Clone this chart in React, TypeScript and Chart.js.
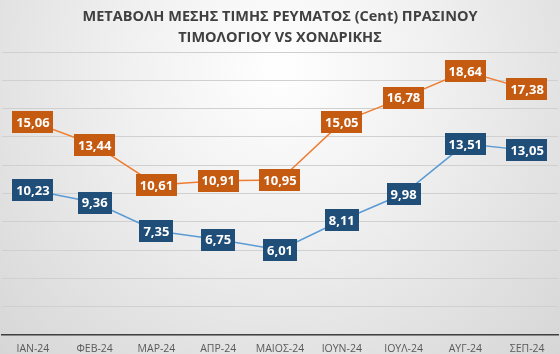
import React, { useEffect, useRef } from "react";
import { Chart, registerables } from "chart.js";

Chart.register(...registerables);

const months = ["ΙΑΝ-24", "ΦΕΒ-24", "ΜΑΡ-24", "ΑΠΡ-24", "ΜΑΙΟΣ-24", "ΙΟΥΝ-24", "ΙΟΥΛ-24", "ΑΥΓ-24", "ΣΕΠ-24"];
const greenTariff = [15.06, 13.44, 10.61, 10.91, 10.95, 15.05, 16.78, 18.64, 17.38];
const wholesale = [10.23, 9.36, 7.35, 6.75, 6.01, 8.11, 9.98, 13.51, 13.05];
const titleLines = ["ΜΕΤΑΒΟΛΗ ΜΕΣΗΣ ΤΙΜΗΣ ΡΕΥΜΑΤΟΣ (Cent) ΠΡΑΣΙΝΟΥ", "ΤΙΜΟΛΟΓΙΟΥ VS ΧΟΝΔΡΙΚΗΣ"];

const FONT = "'Open Sans', 'Liberation Sans', sans-serif";

const boxLabels = {
  id: "boxLabels",
  afterDatasetsDraw(chart: any) {
    const ctx = chart.ctx;
    ctx.save();
    ctx.font = `bold 13px ${FONT}`;
    ctx.textAlign = "center";
    ctx.textBaseline = "middle";
    chart.data.datasets.forEach((ds: any, i: number) => {
      const meta = chart.getDatasetMeta(i);
      meta.data.forEach((pt: any, j: number) => {
        const txt = Number(ds.data[j]).toFixed(2).replace(".", ",");
        const w = ctx.measureText(txt).width + 8;
        const h = 22;
        ctx.fillStyle = ds.labelBg;
        ctx.fillRect(Math.round(pt.x - w / 2), Math.round(pt.y - h / 2), Math.round(w), h);
        ctx.fillStyle = "#ffffff";
        ctx.fillText(txt, pt.x, pt.y + 1);
      });
    });
    ctx.restore();
  },
};

export default function App() {
  const ref = useRef<HTMLCanvasElement>(null);
  useEffect(() => {
    if (!ref.current) return;
    const chart = new Chart(ref.current, {
      type: "line",
      data: {
        labels: months,
        datasets: [
          {
            label: "Πράσινο τιμολόγιο",
            data: greenTariff,
            borderColor: "#ED7D31",
            borderWidth: 1.5,
            pointRadius: 0,
            labelBg: "#C55A11",
          } as any,
          {
            label: "Χονδρική",
            data: wholesale,
            borderColor: "#5B9BD5",
            borderWidth: 1.5,
            pointRadius: 0,
            labelBg: "#1F4E79",
          } as any,
        ],
      },
      options: {
        responsive: false,
        animation: false,
        layout: { padding: { left: 2, right: 2, top: 0, bottom: -8.5 } },
        plugins: {
          legend: { display: false },
          tooltip: { enabled: false },
          title: {
            display: true,
            text: titleLines,
            color: "#404040",
            font: { family: FONT, size: 14.5, weight: "bold", lineHeight: 1.45 },
            padding: { top: 6, bottom: 4 },
          },
        },
        scales: {
          x: {
            offset: true,
            grid: { display: false, drawTicks: false, tickLength: 0 },
            border: { display: true, color: "#404040", width: 1.5 },
            ticks: { color: "#595959", font: { family: FONT, size: 10.5, lineHeight: 1 }, padding: 8.5, maxRotation: 0, autoSkip: false },
          },
          y: {
            min: 0,
            max: 20,
            ticks: { display: false, stepSize: 2 },
            grid: { color: "#d0d0d0", drawTicks: false },
            border: { display: false },
          },
        },
      },
      plugins: [boxLabels],
    });
    return () => chart.destroy();
  }, []);
  return (
    <div
      style={{
        position: "absolute",
        left: 0,
        top: 0,
        width: 560,
        height: 354,
        background: "radial-gradient(ellipse at 50% 20%, #ffffff 0%, #f0f0f0 40%, #d6d6d6 100%)",
      }}
    >
      <canvas ref={ref} width={560} height={354} />
    </div>
  );
}
